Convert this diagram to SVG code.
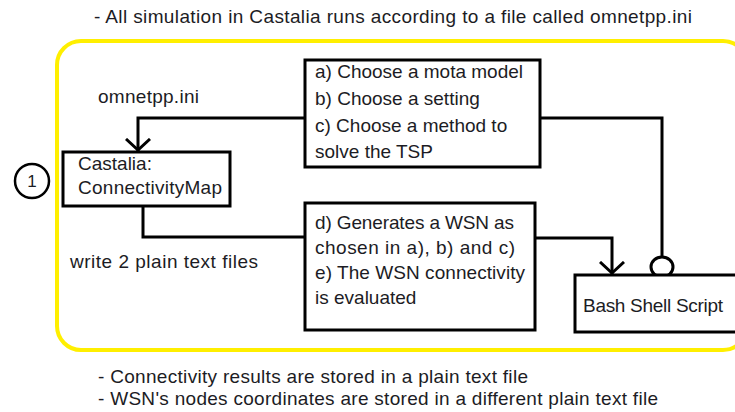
<svg xmlns="http://www.w3.org/2000/svg" width="735" height="412" viewBox="0 0 735 412">
<style>
text{font-family:"Liberation Sans",Arial,sans-serif;font-size:19px;fill:#1c1c24}
.box{fill:#fff;stroke:#000;stroke-width:3}
.ln{fill:none;stroke:#000;stroke-width:3}
</style>
<defs>
<marker id="arr" viewBox="0 0 14 26" refX="13" refY="13" markerWidth="14" markerHeight="26" markerUnits="userSpaceOnUse" orient="auto">
<path d="M1,1 L12,13 L1,25" fill="none" stroke="#000" stroke-width="3"/>
</marker>
</defs>
<rect width="735" height="412" fill="#fff"/>
<text x="94" y="23" textLength="598">- All simulation in Castalia runs according to a file called omnetpp.ini</text>
<rect x="57" y="41" width="690" height="309" rx="24" fill="none" stroke="#FFEF00" stroke-width="4"/>
<g id="connectors">
<path class="ln" d="M305,118 H138 V151" marker-end="url(#arr)"/>
<path class="ln" d="M540,118 H662 V257"/>
<ellipse cx="662" cy="267" rx="11" ry="10" fill="#fff" stroke="#000" stroke-width="3"/>
<path class="ln" d="M143,206 V237 H305"/>
<path class="ln" d="M535,238 H612 V274" marker-end="url(#arr)"/>
</g>
<g id="label-omnetpp"><text x="98" y="103" textLength="101">omnetpp.ini</text></g>
<g id="label-write"><text x="70" y="268" textLength="188">write 2 plain text files</text></g>
<g id="step1">
<circle cx="32" cy="181" r="17" fill="#fff" stroke="#000" stroke-width="2.5"/>
<text x="32" y="187" text-anchor="middle" style="font-size:17px">1</text>
</g>
<g id="castalia">
<rect class="box" x="63" y="152" width="167" height="54"/>
<text x="78" y="170">Castalia:</text>
<text x="78" y="194" textLength="144">ConnectivityMap</text>
</g>
<g id="choose">
<rect class="box" x="305" y="60" width="235" height="107"/>
<text x="315" y="78" textLength="208">a) Choose a mota model</text>
<text x="315" y="105">b) Choose a setting</text>
<text x="315" y="132">c) Choose a method to</text>
<text x="315" y="158">solve the TSP</text>
</g>
<g id="generate">
<rect class="box" x="305" y="203" width="230" height="127"/>
<text x="315" y="229" textLength="199">d) Generates a WSN as</text>
<text x="315" y="254" textLength="200">chosen in a), b) and c)</text>
<text x="315" y="279" textLength="210">e) The WSN connectivity</text>
<text x="315" y="304">is evaluated</text>
</g>
<g id="bash">
<rect class="box" x="575" y="275" width="170" height="57"/>
<text x="583" y="312" textLength="140">Bash Shell Script</text>
</g>
<text x="98" y="383" textLength="430">- Connectivity results are stored in a plain text file</text>
<text x="98" y="405" textLength="560">- WSN's nodes coordinates are stored in a different plain text file</text>
</svg>
